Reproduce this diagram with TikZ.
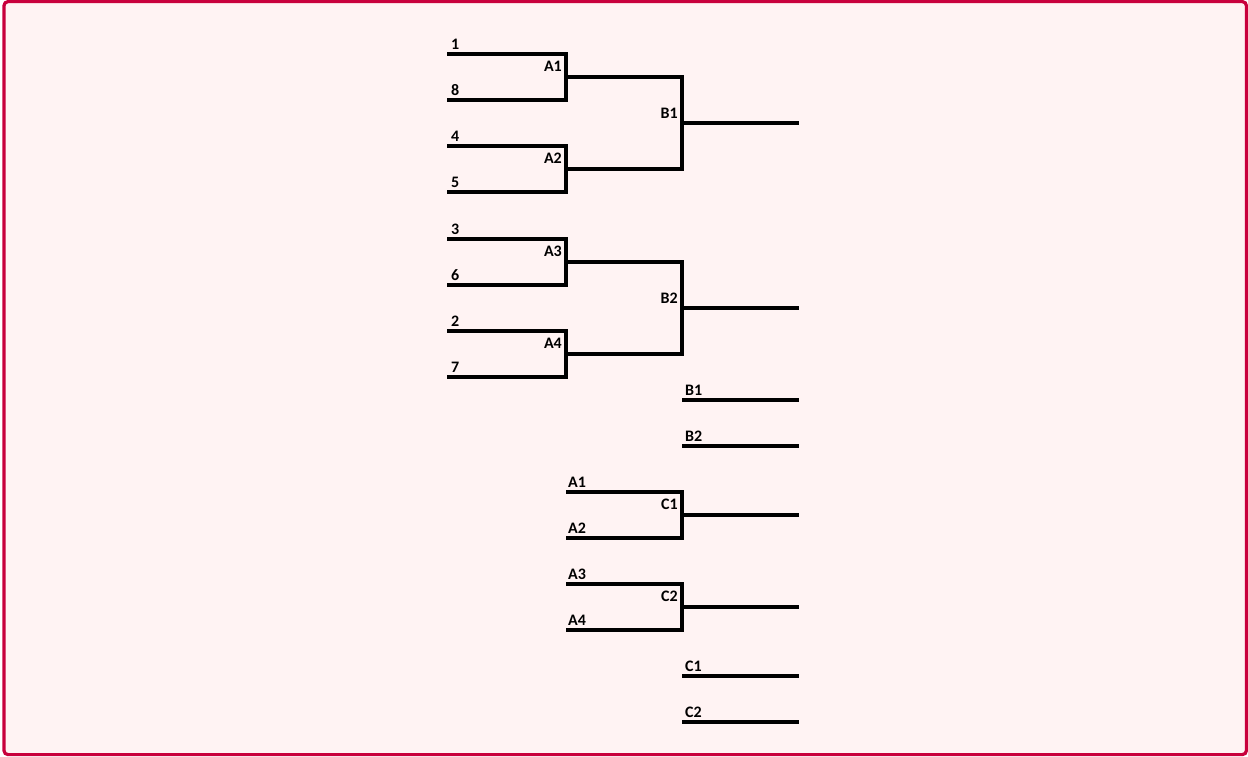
\documentclass[tikz,border=0pt]{standalone}
\usepackage{fontspec}
\setmainfont{Carlito}
\usetikzlibrary{calc, positioning}

\definecolor{framered}{HTML}{C8003C}
\definecolor{paper}{HTML}{FFF3F3}

\tikzset{
    bracket/.style={line width=3.4pt, line join=miter},
    seedlabel/.style={font=\bfseries\fontsize{16}{18}\selectfont, anchor=south west, inner sep=1pt},
    matchlabel/.style={font=\bfseries\fontsize{16}{18}\selectfont, anchor=south east, inner sep=1pt},
}

\begin{document}
\begin{tikzpicture}[x=1pt, y=-1pt]
    % Frame
    \useasboundingbox (0,0) rectangle (1248,756);
    \draw[framered, fill=paper, line width=3.2pt, rounded corners=4pt] (4,1.6) rectangle (1246.4,754.6);

    % First round: seeds
    \foreach \name/\y/\lbl in {s1/54/1, s8/100/8, s4/146/4, s5/192/5, s3/239/3, s6/285/6, s2/331/2, s7/377/7} {
        \coordinate (\name) at (447,\y);
        \coordinate (\name e) at (566,\y);
        \node[seedlabel] (\name l) at (450,\y-3.5) {\lbl};
    }

    % First round: matches A1..A4
    \draw[bracket] (s1) -- (s1e) -- (s8e) -- (s8);
    \draw[bracket] (s4) -- (s4e) -- (s5e) -- (s5);
    \draw[bracket] (s3) -- (s3e) -- (s6e) -- (s6);
    \draw[bracket] (s2) -- (s2e) -- (s7e) -- (s7);
    \coordinate (a1) at ($(s1e)!0.5!(s8e)$);
    \coordinate (a2) at ($(s4e)!0.5!(s5e)$);
    \coordinate (a3) at ($(s3e)!0.5!(s6e)$);
    \coordinate (a4) at ($(s2e)!0.5!(s7e)$);
    \node[matchlabel] (a1l) at ($(a1)+(-3,-4)$) {A1};
    \node[matchlabel] (a2l) at ($(a2)+(-3,-4)$) {A2};
    \node[matchlabel] (a3l) at ($(a3)+(-3,-4)$) {A3};
    \node[matchlabel] (a4l) at ($(a4)+(-3,-4)$) {A4};

    % Second round: B1, B2
    \coordinate (a1e) at (a1 -| 682,0);
    \coordinate (a2e) at (a2 -| 682,0);
    \coordinate (a3e) at (a3 -| 682,0);
    \coordinate (a4e) at (a4 -| 682,0);
    \draw[bracket] (a1) -- (a1e) -- (a2e) -- (a2);
    \draw[bracket] (a3) -- (a3e) -- (a4e) -- (a4);
    \coordinate (b1) at ($(a1e)!0.5!(a2e)$);
    \coordinate (b2) at ($(a3e)!0.5!(a4e)$);
    \coordinate (b1e) at (b1 -| 799,0);
    \coordinate (b2e) at (b2 -| 799,0);
    \draw[bracket] (b1) -- (b1e);
    \draw[bracket] (b2) -- (b2e);
    \node[matchlabel] (b1l) at ($(b1)+(-3,-3)$) {B1};
    \node[matchlabel] (b2l) at ($(b2)+(-3,-3)$) {B2};

    % B winners
    \coordinate (wb1) at (682,400);
    \coordinate (wb1e) at (799,400);
    \coordinate (wb2) at (682,446);
    \coordinate (wb2e) at (799,446);
    \draw[bracket] (wb1) -- (wb1e);
    \draw[bracket] (wb2) -- (wb2e);
    \node[seedlabel] (wb1l) at (684,396.5) {B1};
    \node[seedlabel] (wb2l) at (684,442.5) {B2};

    % Consolation: C1, C2
    \coordinate (ca1) at (566,492);
    \coordinate (ca2) at (566,538);
    \coordinate (ca3) at (566,584);
    \coordinate (ca4) at (566,630);
    \coordinate (ca1e) at (682,492);
    \coordinate (ca2e) at (682,538);
    \coordinate (ca3e) at (682,584);
    \coordinate (ca4e) at (682,630);
    \draw[bracket] (ca1) -- (ca1e) -- (ca2e) -- (ca2);
    \draw[bracket] (ca3) -- (ca3e) -- (ca4e) -- (ca4);
    \node[seedlabel] (ca1l) at (567,488.5) {A1};
    \node[seedlabel] (ca2l) at (567,534.5) {A2};
    \node[seedlabel] (ca3l) at (567,580.5) {A3};
    \node[seedlabel] (ca4l) at (567,626.5) {A4};
    \coordinate (c1) at ($(ca1e)!0.5!(ca2e)$);
    \coordinate (c2) at ($(ca3e)!0.5!(ca4e)$);
    \coordinate (c1e) at (c1 -| 799,0);
    \coordinate (c2e) at (c2 -| 799,0);
    \draw[bracket] (c1) -- (c1e);
    \draw[bracket] (c2) -- (c2e);
    \node[matchlabel] (c1l) at ($(c1)+(-3,-4)$) {C1};
    \node[matchlabel] (c2l) at ($(c2)+(-3,-4)$) {C2};

    % C winners
    \coordinate (wc1) at (682,676);
    \coordinate (wc1e) at (799,676);
    \coordinate (wc2) at (682,722);
    \coordinate (wc2e) at (799,722);
    \draw[bracket] (wc1) -- (wc1e);
    \draw[bracket] (wc2) -- (wc2e);
    \node[seedlabel] (wc1l) at (684,672.5) {C1};
    \node[seedlabel] (wc2l) at (684,718.5) {C2};
\end{tikzpicture}
\end{document}
